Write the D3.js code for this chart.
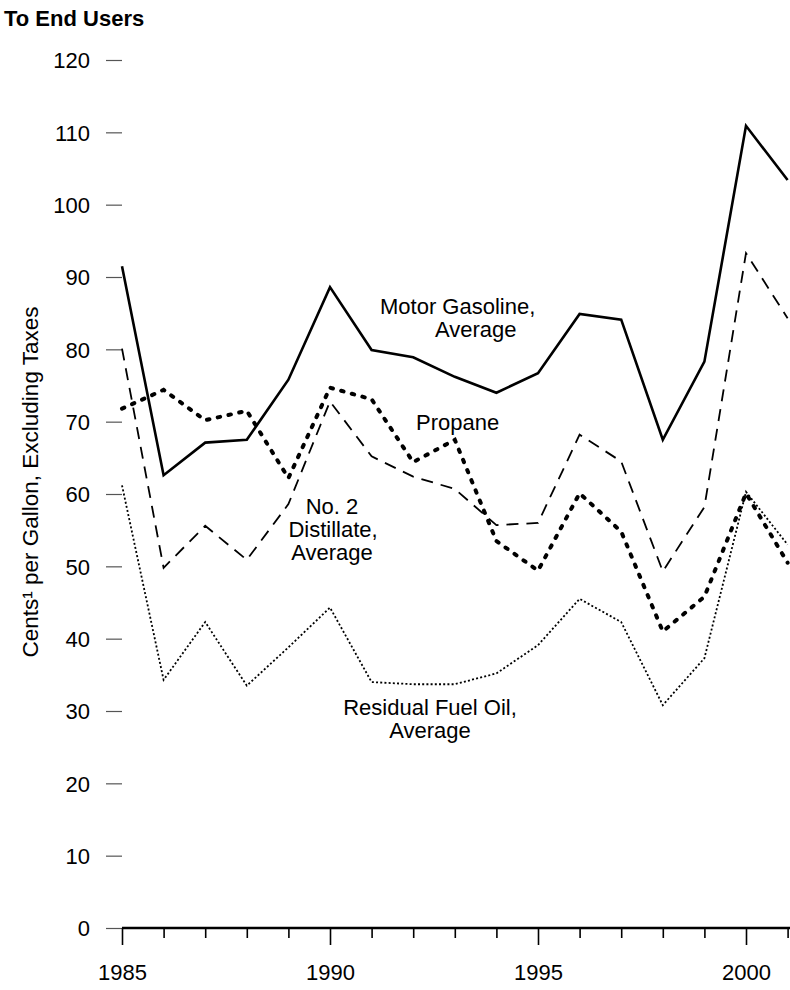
<!DOCTYPE html>
<html><head><meta charset="utf-8">
<script src="https://cdn.jsdelivr.net/npm/d3@7"></script>
<style>
body{margin:0;background:#fff}
svg{display:block}
text{font-family:"Liberation Sans",Arial,Helvetica,sans-serif;fill:#000}
</style>
</head><body>
<svg id="chart" width="790" height="990"></svg>
<script>
// ---- data ----
const years = [1985,1986,1987,1988,1989,1990,1991,1992,1993,1994,1995,1996,1997,1998,1999,2000,2001];
const motorGasoline = [91.5,62.6,67.1,67.5,75.8,88.6,79.9,78.9,76.2,74.0,76.7,84.9,84.1,67.5,78.3,110.9,103.4];
const propane       = [71.8,74.4,70.2,71.5,62.2,74.7,73.1,64.4,67.5,53.5,49.4,60.1,54.8,41.0,45.8,60.1,50.5];
const distillate    = [80.1,49.8,55.6,50.9,58.6,72.8,65.2,62.4,60.7,55.7,56.0,68.2,64.5,49.3,58.2,93.3,84.3];
const residual      = [61.2,34.3,42.3,33.5,38.8,44.3,34.0,33.7,33.7,35.2,39.1,45.5,42.3,30.8,37.3,60.3,53.0];
const yTicks = [0,10,20,30,40,50,60,70,80,90,100,110,120];
const xLabelYears = [1985,1990,1995,2000];
const title = "To End Users";
const yTitle = "Cents\u00B9 per Gallon, Excluding Taxes";

const W = 790, H = 990;
const svg = d3.select("#chart");
const x = d3.scaleLinear().domain([1985, 2001]).range([122, 787.6]);
const y = d3.scaleLinear().domain([0, 120]).range([928, 60]);
const FS = 22;

// title
svg.append("text").attr("x", 4).attr("y", 26)
  .attr("font-size", FS).attr("font-weight", "bold").text(title);

// y title
svg.append("text")
  .attr("transform", `translate(${38},${482}) rotate(-90)`)
  .attr("text-anchor", "middle").attr("font-size", 22.5).text(yTitle);

// y axis (ticks only)
const yAxis = d3.axisLeft(y).tickValues(yTicks).tickSize(16).tickPadding(16).tickFormat(d3.format("d"));
const gy = svg.append("g").attr("transform", `translate(${x(1985)},0)`).call(yAxis);
gy.select(".domain").remove();
gy.selectAll(".tick line").attr("stroke", "#555").attr("stroke-width", 1.2);
gy.selectAll(".tick text").attr("font-size", FS).attr("font-family", null).attr("dy", "0.35em");

// x axis
const xAxis = d3.axisBottom(x).tickValues(years).tickSizeInner(10).tickSizeOuter(0)
  .tickFormat(d => xLabelYears.includes(d) ? d : "");
const gx = svg.append("g").attr("transform", `translate(0,${y(0)})`).call(xAxis);
gx.select(".domain").attr("stroke-width", 2.5).attr("d", `M${x(1985)},0H${W}`);
gx.selectAll(".tick line").attr("stroke-width", 1.6)
  .attr("y2", d => xLabelYears.includes(d) ? 17 : 10);
gx.selectAll(".tick text").attr("font-size", FS).attr("font-family", null)
  .attr("y", 36).attr("dy", "0.71em");

// lines
const series = [
  {vals: residual,      w: 1.8, dash: "2 2.2",  cap: "butt"},
  {vals: distillate,    w: 1.8, dash: "12 8",   cap: "butt"},
  {vals: propane,       w: 4,   dash: "2.5 8.5", cap: "round"},
  {vals: motorGasoline, w: 2.6, dash: null,     cap: "butt"}
];
const line = d3.line().x((d,i) => x(years[i])).y(d => y(d));
series.forEach(s => {
  svg.append("path").datum(s.vals).attr("d", line)
    .attr("fill", "none").attr("stroke", "#000")
    .attr("stroke-width", s.w).attr("stroke-linecap", s.cap)
    .attr("stroke-linejoin", "miter")
    .attr("stroke-dasharray", s.dash);
});

// labels
function label(lines, anchor) {
  lines.forEach(l => {
    svg.append("text").attr("x", l.x).attr("y", l.y)
      .attr("text-anchor", anchor).attr("font-size", FS).text(l.t);
  });
}
label([{t:"Motor Gasoline,", x:380, y:314},{t:"Average", x:435, y:337}], "start");
label([{t:"Propane", x:416, y:430}], "start");
label([{t:"No. 2", x:332, y:514},{t:"Distillate,", x:333, y:537},{t:"Average", x:332, y:560}], "middle");
label([{t:"Residual Fuel Oil,", x:430, y:715},{t:"Average", x:430, y:738}], "middle");
</script>
</body></html>
